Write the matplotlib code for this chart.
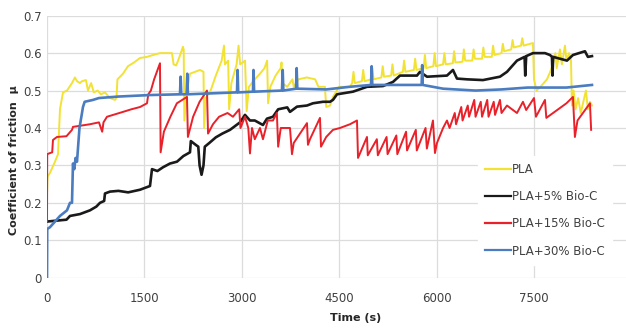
import numpy as np
import matplotlib
matplotlib.use("Agg")
import matplotlib.pyplot as plt

# (time s, coefficient of friction)
pla = [
    (0, 0.22), (8, 0.27), (46, 0.28), (123, 0.31), (170, 0.33), (200, 0.45),
    (246, 0.495), (308, 0.50), (385, 0.52), (430, 0.535), (462, 0.525),
    (508, 0.52), (539, 0.525), (600, 0.528), (631, 0.50), (680, 0.52),
    (720, 0.495), (780, 0.50), (830, 0.49), (893, 0.495), (970, 0.48),
    (1047, 0.475), (1070, 0.48), (1085, 0.53), (1170, 0.545), (1247, 0.565),
    (1340, 0.575), (1432, 0.587), (1540, 0.59), (1632, 0.595), (1740, 0.60),
    (1850, 0.60), (1925, 0.60), (1950, 0.57), (1990, 0.567), (2040, 0.59),
    (2094, 0.617), (2105, 0.61), (2115, 0.42), (2156, 0.50), (2202, 0.545),
    (2279, 0.55), (2356, 0.555), (2410, 0.55), (2420, 0.40), (2445, 0.48),
    (2520, 0.50), (2600, 0.54), (2690, 0.58), (2726, 0.62), (2740, 0.57),
    (2790, 0.58), (2805, 0.45), (2840, 0.52), (2920, 0.57), (2950, 0.62),
    (2975, 0.57), (3050, 0.58), (3075, 0.445), (3110, 0.51), (3200, 0.53),
    (3280, 0.545), (3350, 0.56), (3390, 0.58), (3405, 0.466), (3440, 0.51),
    (3520, 0.54), (3600, 0.56), (3612, 0.575), (3625, 0.52), (3700, 0.51),
    (3780, 0.53), (3800, 0.51), (3870, 0.53), (4000, 0.535), (4130, 0.53),
    (4180, 0.51), (4280, 0.51), (4300, 0.456), (4360, 0.46), (4404, 0.483),
    (4500, 0.51), (4666, 0.51), (4700, 0.52), (4720, 0.55), (4740, 0.52),
    (4850, 0.525), (4870, 0.555), (4890, 0.525), (4990, 0.53), (5010, 0.56),
    (5030, 0.53), (5150, 0.535), (5170, 0.565), (5190, 0.537), (5300, 0.54),
    (5320, 0.57), (5340, 0.54), (5480, 0.55), (5500, 0.58), (5520, 0.55),
    (5650, 0.555), (5670, 0.585), (5690, 0.555), (5800, 0.56), (5820, 0.595),
    (5840, 0.56), (5950, 0.565), (5970, 0.60), (5990, 0.565), (6100, 0.57),
    (6120, 0.60), (6140, 0.57), (6250, 0.573), (6270, 0.605), (6290, 0.575),
    (6400, 0.577), (6420, 0.61), (6440, 0.58), (6550, 0.58), (6570, 0.61),
    (6590, 0.585), (6700, 0.585), (6720, 0.615), (6740, 0.59), (6850, 0.59),
    (6870, 0.62), (6890, 0.595), (7000, 0.60), (7020, 0.625), (7040, 0.605),
    (7150, 0.61), (7170, 0.635), (7190, 0.615), (7300, 0.62), (7320, 0.64),
    (7340, 0.62), (7484, 0.627), (7500, 0.53), (7540, 0.50), (7600, 0.51),
    (7650, 0.52), (7700, 0.53), (7750, 0.55), (7790, 0.57), (7830, 0.60),
    (7850, 0.56), (7900, 0.61), (7930, 0.57), (7977, 0.62), (8000, 0.58),
    (8040, 0.60), (8070, 0.58), (8085, 0.46), (8110, 0.50), (8140, 0.45),
    (8180, 0.48), (8220, 0.44), (8260, 0.47), (8300, 0.50), (8330, 0.45),
    (8362, 0.47), (8393, 0.46),
]

pla_5 = [
    (0, 0.15), (300, 0.155), (354, 0.165), (508, 0.17), (662, 0.18),
    (760, 0.19), (816, 0.20), (880, 0.205), (893, 0.225), (970, 0.23),
    (1100, 0.232), (1250, 0.228), (1432, 0.235), (1540, 0.242), (1586, 0.245),
    (1617, 0.29), (1700, 0.285), (1786, 0.295), (1894, 0.305), (2002, 0.31),
    (2100, 0.325), (2202, 0.335), (2215, 0.365), (2290, 0.355), (2330, 0.35),
    (2350, 0.30), (2380, 0.275), (2410, 0.30), (2430, 0.35), (2500, 0.36),
    (2600, 0.375), (2700, 0.385), (2818, 0.395), (2972, 0.415), (3049, 0.435),
    (3126, 0.42), (3200, 0.42), (3326, 0.408), (3388, 0.425), (3480, 0.43),
    (3560, 0.45), (3700, 0.455), (3742, 0.443), (3850, 0.457), (4004, 0.46),
    (4096, 0.466), (4250, 0.47), (4358, 0.47), (4404, 0.475), (4466, 0.49),
    (4712, 0.497), (4928, 0.51), (5174, 0.512), (5328, 0.523), (5436, 0.54),
    (5698, 0.54), (5744, 0.55), (5852, 0.537), (6160, 0.54), (6252, 0.555),
    (6314, 0.532), (6468, 0.53), (6714, 0.528), (6976, 0.537), (7084, 0.55),
    (7238, 0.58), (7355, 0.59), (7365, 0.54), (7380, 0.592), (7484, 0.60),
    (7669, 0.60), (7746, 0.595), (7777, 0.59), (7785, 0.54), (7795, 0.59),
    (8008, 0.58), (8100, 0.595), (8285, 0.605), (8330, 0.59), (8393, 0.592),
]

pla_15 = [
    (0, 0.15), (3, 0.33), (46, 0.333), (80, 0.335), (92, 0.368), (154, 0.376),
    (300, 0.378), (385, 0.395), (400, 0.403), (662, 0.41), (800, 0.415),
    (850, 0.39), (870, 0.415), (924, 0.43), (1170, 0.443), (1300, 0.45),
    (1432, 0.456), (1540, 0.466), (1560, 0.49), (1600, 0.50), (1650, 0.53),
    (1740, 0.573), (1750, 0.335), (1800, 0.39), (1900, 0.43), (2000, 0.466),
    (2156, 0.483), (2170, 0.376), (2250, 0.43), (2350, 0.47), (2464, 0.50),
    (2480, 0.385), (2556, 0.41), (2650, 0.43), (2780, 0.44), (2864, 0.43),
    (2960, 0.45), (2980, 0.40), (3049, 0.43), (3100, 0.40), (3126, 0.332),
    (3157, 0.40), (3200, 0.37), (3280, 0.40), (3326, 0.37), (3400, 0.42),
    (3480, 0.42), (3540, 0.44), (3560, 0.35), (3600, 0.40), (3742, 0.40),
    (3773, 0.33), (3800, 0.36), (4004, 0.413), (4019, 0.355), (4050, 0.37),
    (4204, 0.427), (4220, 0.35), (4300, 0.376), (4404, 0.395), (4512, 0.40),
    (4666, 0.41), (4774, 0.42), (4790, 0.32), (4928, 0.376), (4940, 0.327),
    (5080, 0.37), (5095, 0.327), (5230, 0.376), (5245, 0.33), (5380, 0.38),
    (5395, 0.33), (5530, 0.39), (5545, 0.34), (5680, 0.395), (5695, 0.34),
    (5830, 0.40), (5850, 0.345), (5944, 0.42), (5975, 0.333), (6006, 0.36),
    (6100, 0.40), (6160, 0.42), (6200, 0.40), (6280, 0.44), (6300, 0.41),
    (6380, 0.456), (6400, 0.42), (6480, 0.46), (6500, 0.43), (6580, 0.475),
    (6600, 0.43), (6680, 0.47), (6700, 0.43), (6780, 0.475), (6800, 0.43),
    (6880, 0.47), (6900, 0.435), (6976, 0.475), (7000, 0.44), (7084, 0.46),
    (7238, 0.44), (7330, 0.47), (7380, 0.448), (7500, 0.48), (7530, 0.43),
    (7669, 0.475), (7690, 0.427), (8000, 0.466), (8100, 0.483), (8130, 0.376),
    (8170, 0.42), (8362, 0.466), (8380, 0.395),
]

pla_30 = [
    (0, 0.0), (3, 0.13), (46, 0.135), (200, 0.165), (308, 0.18), (354, 0.20),
    (385, 0.20), (400, 0.305), (420, 0.29), (440, 0.32), (462, 0.31),
    (500, 0.40), (539, 0.44), (554, 0.456), (580, 0.47), (708, 0.475),
    (800, 0.48), (1100, 0.484), (1586, 0.488), (2048, 0.49), (2058, 0.537),
    (2068, 0.49), (2150, 0.49), (2160, 0.545), (2170, 0.49), (2900, 0.495),
    (2926, 0.495), (2935, 0.555), (2945, 0.495), (3172, 0.497), (3180, 0.555),
    (3190, 0.497), (3619, 0.50), (3630, 0.555), (3640, 0.50), (3835, 0.505),
    (3845, 0.56), (3855, 0.505), (4300, 0.503), (4660, 0.51), (4990, 0.515),
    (5000, 0.565), (5010, 0.515), (5500, 0.515), (5770, 0.515), (5778, 0.568),
    (5786, 0.515), (6100, 0.505), (6600, 0.50), (7000, 0.503), (7400, 0.508),
    (8000, 0.508), (8393, 0.515),
]

labels = ["PLA", "PLA+5% Bio-C", "PLA+15% Bio-C", "PLA+30% Bio-C"]
colors = ["#F2E234", "#1A1A1A", "#E8212A", "#4A7CBF"]
widths = [1.4, 1.9, 1.4, 1.9]
x_ticks = [0, 1500, 3000, 4500, 6000, 7500]
y_ticks = [0, 0.1, 0.2, 0.3, 0.4, 0.5, 0.6, 0.7]

fig = plt.figure(figsize=(6.26, 3.28), dpi=100)
ax = fig.add_axes([47 / 626, 1 - 277.7 / 328, 1 - 47 / 626, (277.7 - 15.7) / 328])

for data, lab, col, lw in zip([pla, pla_5, pla_15, pla_30], labels, colors, widths):
    arr = np.array(data)
    ax.plot(arr[:, 0], arr[:, 1], color=col, lw=lw, label=lab)

ax.set_xlim(0, 8917)
ax.set_ylim(0, 0.7)
ax.set_xticks(x_ticks)
ax.set_yticks(y_ticks)
ax.set_yticklabels(["0" if v == 0 else f"{v:.1f}" for v in y_ticks])
ax.grid(True, color="#dcdcdc", lw=0.9)
ax.set_axisbelow(True)
for s in ax.spines.values():
    s.set_visible(False)
ax.tick_params(length=0, labelsize=8.5, colors="#404040")
ax.tick_params(axis="x", pad=10)
ax.tick_params(axis="y", pad=4)

ax.set_xlabel("Time (s)", fontsize=8, fontweight="bold", color="#262626")
ax.xaxis.set_label_coords((356 - 47) / 579, -(313 - 277.7) / 262)
ax.set_ylabel("Coefficient of friction  μ", fontsize=8, fontweight="bold", color="#262626")
ax.yaxis.set_label_coords((19 - 47) / 579, (277.7 - 160) / 262)

leg = ax.legend(loc="upper left", bbox_to_anchor=(478 / 626, 1 - 156 / 328),
                bbox_transform=fig.transFigure, frameon=True, fontsize=8.5,
                handlelength=2.2, handletextpad=0.1, labelspacing=1.2,
                borderpad=0.6, borderaxespad=0)
leg.get_frame().set_facecolor("white")
leg.get_frame().set_edgecolor("white")
leg.get_frame().set_alpha(1)
for t in leg.get_texts():
    t.set_color("#404040")
for h in leg.get_lines():
    h.set_linewidth(1.6)

fig.savefig("out.png", dpi=100)
